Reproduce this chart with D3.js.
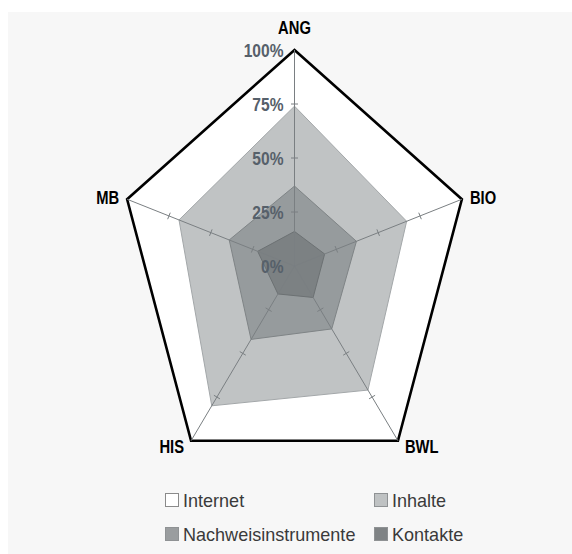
<!DOCTYPE html>
<html>
<head>
<meta charset="utf-8">
<script src="https://cdn.jsdelivr.net/npm/d3@7"></script>
<style>
  html, body { margin: 0; padding: 0; background: #ffffff; }
  svg { display: block; }
</style>
</head>
<body>
<svg id="chart" width="572" height="554"></svg>
<script>
// Survey axes (clockwise from the top)
const categories = ["ANG", "BIO", "BWL", "HIS", "MB"];

// Share of respondents per source, in percent
const internet = [100, 100, 100, 100, 100];
const inhalte = [74, 67, 71, 80, 69];
const nachweisinstrumente = [37, 37, 36, 42, 39];
const kontakte = [16, 18, 18, 16, 22];

// Radial tick values and their labels
const tickValues = [0, 25, 50, 75, 100];
const tickLabels = ["0%", "25%", "50%", "75%", "100%"];

const seriesNames = ["Internet", "Inhalte", "Nachweisinstrumente", "Kontakte"];
const seriesValues = [internet, inhalte, nachweisinstrumente, kontakte];

const fills = ["#ffffff", "#c0c3c4", "#969b9d", "#7c8183"];
const strokes = ["#000000", "#a3a7a9", "#7f8486", "#6c7173"];
const swatchFills = ["#ffffff", "#bfc2c3", "#9a9d9f", "#7f8385"];

const svg = d3.select("#chart");
const W = 572, H = 554;
const cx = 294.5, cy = 266;

// Panel background
svg.append("rect")
  .attr("x", 8).attr("y", 12)
  .attr("width", W - 8).attr("height", H - 12)
  .attr("fill", "#f7f7f7");

// Radial scales (the plot is taller than it is wide)
const rx = d3.scaleLinear().domain([0, 100]).range([0, 176]);
const ry = d3.scaleLinear().domain([0, 100]).range([0, 216]);
const angle = d3.scaleBand().domain(categories).range([0, 2 * Math.PI]).paddingInner(0).paddingOuter(0);

function pt(cat, v) {
  const a = angle(cat);
  return [cx + rx(v) * Math.sin(a), cy - ry(v) * Math.cos(a)];
}

const line = d3.line().curve(d3.curveLinearClosed);

// Series polygons, back to front
seriesValues.forEach((vals, i) => {
  svg.append("path")
    .attr("d", line(categories.map((c, j) => pt(c, vals[j]))))
    .attr("fill", fills[i])
    .attr("stroke", strokes[i])
    .attr("stroke-width", i === 0 ? 2.6 : 1)
    .attr("stroke-linejoin", "miter");
});

// Axes with small perpendicular tick marks
const axes = svg.append("g");
categories.forEach(c => {
  const p0 = pt(c, 0), p1 = pt(c, 100);
  axes.append("line")
    .attr("x1", p0[0]).attr("y1", p0[1])
    .attr("x2", p1[0]).attr("y2", p1[1])
    .attr("stroke", "#7a7f82").attr("stroke-width", 1);
  const dx = p1[0] - p0[0], dy = p1[1] - p0[1];
  const len = Math.hypot(dx, dy);
  const nx = -dy / len, ny = dx / len;
  tickValues.slice(1, -1).forEach(t => {
    const p = pt(c, t);
    axes.append("line")
      .attr("x1", p[0] - nx * 3.5).attr("y1", p[1] - ny * 3.5)
      .attr("x2", p[0] + nx * 3.5).attr("y2", p[1] + ny * 3.5)
      .attr("stroke", "#7a7f82").attr("stroke-width", 1);
  });
});

// Percentage labels along the top axis
const squeeze = 0.82;
tickValues.forEach((t, i) => {
  const p = pt(categories[0], t);
  svg.append("text")
    .attr("transform", `translate(${p[0] - 11},${p[1] + 7}) scale(${squeeze},1)`)
    .attr("text-anchor", "end")
    .attr("font-family", "'Liberation Sans', Arial, sans-serif")
    .attr("font-weight", "bold")
    .attr("font-size", 19)
    .attr("fill", "#56606a")
    .text(tickLabels[i]);
});

// Category labels at the outer vertices
const labelPos = {
  "ANG": { dx: 0, dy: -16, anchor: "middle" },
  "BIO": { dx: 8, dy: 5, anchor: "start" },
  "BWL": { dx: 7, dy: 12, anchor: "start" },
  "HIS": { dx: -7, dy: 12, anchor: "end" },
  "MB": { dx: -8, dy: 5, anchor: "end" }
};
categories.forEach(c => {
  const p = pt(c, 100);
  const o = labelPos[c];
  svg.append("text")
    .attr("transform", `translate(${p[0] + o.dx},${p[1] + o.dy}) scale(${squeeze},1)`)
    .attr("text-anchor", o.anchor)
    .attr("font-family", "'Liberation Sans', Arial, sans-serif")
    .attr("font-weight", "bold")
    .attr("font-size", 18)
    .attr("fill", "#000000")
    .text(c);
});

// Legend, two columns by two rows
const legendX = [165, 374];
const legendY = [493, 527];
seriesNames.forEach((name, i) => {
  const x = legendX[i % 2], y = legendY[Math.floor(i / 2)];
  svg.append("rect")
    .attr("x", x + 0.5).attr("y", y + 0.5)
    .attr("width", 13).attr("height", 13)
    .attr("fill", swatchFills[i])
    .attr("stroke", i === 0 ? "#8a8a8a" : "#8f9294")
    .attr("stroke-width", 1);
  svg.append("text")
    .attr("transform", `translate(${x + 18},${y + 14}) scale(0.95,1)`)
    .attr("font-family", "'Liberation Sans', Arial, sans-serif")
    .attr("font-size", 19)
    .attr("fill", "#3a3a3a")
    .text(name);
});
</script>
</body>
</html>
